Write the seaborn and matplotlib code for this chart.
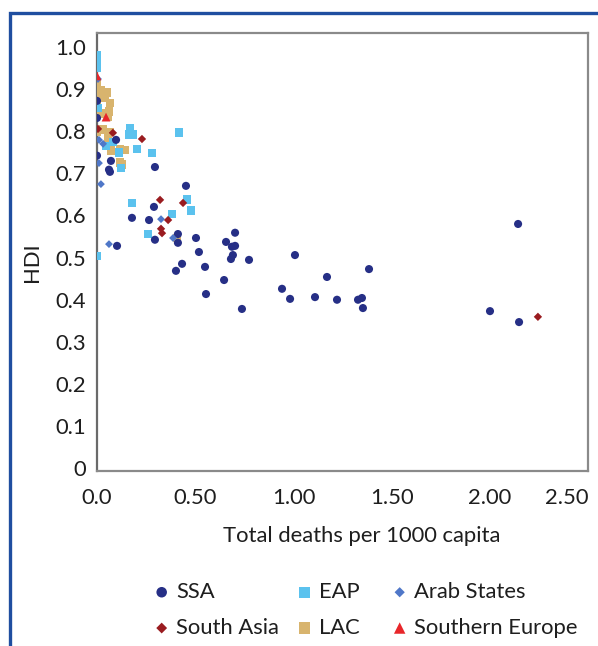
import matplotlib
matplotlib.use("Agg")
import matplotlib.pyplot as plt
import seaborn as sns
import pandas as pd
from matplotlib.patches import Rectangle
from matplotlib.transforms import ScaledTranslation

# ---------------------------------------------------------------------------
# Data: total deaths per 1000 capita vs HDI, by region
# ---------------------------------------------------------------------------
ssa_x = [0.0, 0.0, 0.097, 0.0, 0.071, 0.061, 0.066, 0.295, 0.453, 0.290, 0.178,
         0.265, 0.412, 0.412, 0.295, 0.504, 0.102, 0.519, 0.433, 0.402, 0.550,
         0.657, 0.703, 0.687, 0.703, 0.692, 0.682, 0.774, 0.647, 0.555, 0.738,
         1.008, 0.942, 0.983, 1.110, 1.171, 1.222, 1.329, 1.349, 1.354, 1.385,
         2.001, 2.149, 2.144]
ssa_y = [0.845, 0.806, 0.756, 0.720, 0.708, 0.688, 0.683, 0.694, 0.651, 0.603, 0.578,
         0.573, 0.541, 0.521, 0.528, 0.532, 0.514, 0.500, 0.473, 0.457, 0.466,
         0.523, 0.544, 0.512, 0.514, 0.493, 0.484, 0.482, 0.436, 0.404, 0.370,
         0.493, 0.416, 0.393, 0.397, 0.443, 0.391, 0.391, 0.395, 0.372, 0.461,
         0.365, 0.340, 0.564]

eap_x = [0.0, 0.0, 0.0, 0.005, 0.168, 0.163, 0.183, 0.418, 0.046, 0.081, 0.204,
         0.280, 0.112, 0.122, 0.178, 0.458, 0.479, 0.382, 0.260, 0.0]
eap_y = [0.950, 0.936, 0.920, 0.829, 0.783, 0.769, 0.769, 0.772, 0.742, 0.751, 0.735,
         0.726, 0.728, 0.692, 0.612, 0.619, 0.594, 0.587, 0.541, 0.491]

arab_x = [0.005, 0.010, 0.031, 0.010, 0.020, 0.326, 0.387, 0.061]
arab_y = [0.895, 0.756, 0.747, 0.703, 0.655, 0.575, 0.532, 0.518]

sasia_x = [0.005, 0.081, 0.229, 0.321, 0.438, 0.362, 0.326, 0.331, 2.245]
sasia_y = [0.781, 0.772, 0.758, 0.619, 0.612, 0.573, 0.553, 0.543, 0.352]

lac_x = [0.0, 0.0, 0.0, 0.020, 0.051, 0.041, 0.066, 0.0, 0.020, 0.061, 0.056,
         0.0, 0.031, 0.066, 0.056, 0.061, 0.071, 0.117, 0.143, 0.117, 0.127, 0.407]
lac_y = [0.884, 0.870, 0.854, 0.870, 0.865, 0.852, 0.840, 0.836, 0.817, 0.820, 0.808,
         0.774, 0.779, 0.774, 0.760, 0.744, 0.731, 0.735, 0.733, 0.705, 0.699, 0.532]

seu_x = [0.0, 0.046]
seu_y = [0.902, 0.808]

x_ticks = [0.0, 0.5, 1.0, 1.5, 2.0, 2.5]
x_ticklabels = ["0.0", "0.50", "1.00", "1.50", "2.00", "2.50"]
y_ticks = [0.0, 0.1, 0.2, 0.3, 0.4, 0.5, 0.6, 0.7, 0.8, 0.9, 1.0]
y_ticklabels = ["0", "0.1", "0.2", "0.3", "0.4", "0.5", "0.6", "0.7", "0.8", "0.9", "1.0"]

series = {
    "SSA": (ssa_x, ssa_y),
    "EAP": (eap_x, eap_y),
    "Arab States": (arab_x, arab_y),
    "South Asia": (sasia_x, sasia_y),
    "LAC": (lac_x, lac_y),
    "Southern Europe": (seu_x, seu_y),
}
df = pd.concat([pd.DataFrame({"deaths": x, "hdi": y, "region": k})
                for k, (x, y) in series.items()], ignore_index=True)

colors = {"SSA": "#262f86", "EAP": "#5bc2ee", "Arab States": "#4f77c8",
          "South Asia": "#9a1c20", "LAC": "#d8b46e", "Southern Europe": "#e8262a"}
markers = {"SSA": "o", "EAP": "s", "Arab States": "D", "South Asia": "D",
           "LAC": "s", "Southern Europe": "^"}
sizes = {"SSA": 34, "EAP": 40, "Arab States": 16, "South Asia": 18,
         "LAC": 40, "Southern Europe": 40}
draw_order = ["LAC", "EAP", "SSA", "Arab States", "South Asia", "Southern Europe"]

sns.set_theme(style="white")
plt.rcParams["font.family"] = ["Lato", "DejaVu Sans"]
FS = 15.8
TXT = "#1e1e1e"

fig = plt.figure(figsize=(5.98, 6.46), dpi=100)
ax = fig.add_axes([97 / 598, 1 - 471 / 646, 491 / 598, 438 / 646])

for region in draw_order:
    sns.scatterplot(data=df[df["region"] == region], x="deaths", y="hdi",
                    marker=markers[region], s=sizes[region], color=colors[region],
                    edgecolor="none", linewidth=0, label=region, legend=False,
                    ax=ax, zorder=3)

ax.set_xlim(0, 2.5); ax.set_ylim(0, 1.0)
ax.set_xticks(x_ticks)
ax.set_xticklabels(x_ticklabels, fontsize=FS, color=TXT)
ax.set_yticks(y_ticks)
ax.set_yticklabels(y_ticklabels, fontsize=FS, color=TXT)
ax.get_xticklabels()[-1].set_ha("right")
ax.tick_params(axis="x", direction="inout", length=6, width=1.2, color="#7a7a7a", pad=9)
ax.tick_params(axis="y", direction="out", length=4, width=1.2, color="#7a7a7a", pad=4)

# y labels in the source sit slightly below their tick marks
for lab, v in zip(ax.get_yticklabels(), y_ticks):
    off = (-3 + 17 * v) / 100
    lab.set_transform(lab.get_transform() + ScaledTranslation(0, -off, fig.dpi_scale_trans))

for side, sp in ax.spines.items():
    sp.set_visible(True)
    sp.set_color("#8a8a8a")
    sp.set_linewidth(1.6)
ax.spines["left"].set_color("#6a6a6a")

ax.set_xlabel("Total deaths per 1000 capita", fontsize=FS, color=TXT)
ax.set_ylabel("HDI", fontsize=FS, color=TXT)
ax.xaxis.set_label_coords((362 - 97) / 491, (471 - 526) / 438)
ax.yaxis.set_label_coords((42 - 97) / 491, (471 - 262) / 438)

# legend in three columns placed like the original
handles, labels = ax.get_legend_handles_labels()
h = dict(zip(labels, handles))
columns = [(["SSA", "South Asia"], 154), (["EAP", "LAC"], 297), (["Arab States", "Southern Europe"], 392)]
for names, xpx in columns:
    fig.legend([h[n] for n in names], names, loc="upper left",
               bbox_to_anchor=(xpx / 598, 1 - 582 / 646), frameon=False,
               fontsize=FS, handlelength=0.7, handletextpad=0.3, labelspacing=0.72,
               borderpad=0, borderaxespad=0, markerscale=1.3, labelcolor=TXT)

# blue frame around the figure (left and top edges visible)
fig.patches.append(Rectangle((9.5 / 598, -0.2), 1.2, 1.2 - 13 / 646,
                             transform=fig.transFigure, fill=False,
                             edgecolor="#1f4ea0", linewidth=2.4))

fig.savefig("out.png", dpi=100)
